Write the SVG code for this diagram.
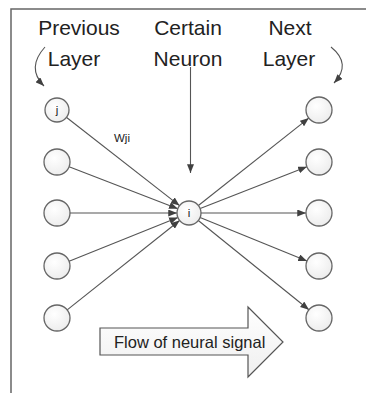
<svg xmlns="http://www.w3.org/2000/svg" width="366" height="393" viewBox="0 0 366 393">
<defs>
<marker id="ah" viewBox="0 0 10 8" refX="10" refY="4" markerWidth="9" markerHeight="7" markerUnits="userSpaceOnUse" orient="auto">
<path d="M0,0 L10,4 L0,8 Z" fill="#404040"/>
</marker>
<radialGradient id="ng" cx="0.4" cy="0.35" r="0.7">
<stop offset="0" stop-color="#ffffff"/>
<stop offset="1" stop-color="#ececec"/>
</radialGradient>
<linearGradient id="fg" x1="0" y1="0" x2="0" y2="1">
<stop offset="0" stop-color="#ffffff"/>
<stop offset="1" stop-color="#efefef"/>
</linearGradient>
</defs>
<style>
.frame{fill:none;stroke:#666;stroke-width:1.5}
.node{fill:url(#ng);stroke:#666;stroke-width:1.3}
.conn{stroke:#555;stroke-width:1.1;fill:none;marker-end:url(#ah)}
.hdr{font-family:"Liberation Sans",Arial,sans-serif;font-size:21px;fill:#222;text-anchor:middle}
.lbl{font-family:"Liberation Sans",Arial,sans-serif;font-size:11.5px;fill:#222;text-anchor:middle}
.flow{font-family:"Liberation Sans",Arial,sans-serif;font-size:16.5px;fill:#222}
</style>
<rect width="366" height="393" fill="#fff"/>
<path class="frame" d="M11,393 L11,9 L366,9"/>

<g id="headers">
<text class="hdr" x="79" y="35">Previous</text>
<text class="hdr" x="74" y="66">Layer</text>
<text class="hdr" x="188" y="35">Certain</text>
<text class="hdr" x="188" y="66">Neuron</text>
<text class="hdr" x="290" y="35">Next</text>
<text class="hdr" x="289" y="66">Layer</text>
</g>

<g id="connectors">
<path class="conn" d="M45,47 Q26,68 44,86"/>
<path class="conn" d="M331,47 Q352,64 334,83"/>
<line class="conn" x1="190.5" y1="67" x2="190.5" y2="173"/>
<line class="conn" x1="66" y1="117" x2="179.5" y2="205.6"/>
<line class="conn" x1="69.1" y1="166.7" x2="177.8" y2="208.7"/>
<line class="conn" x1="70" y1="213" x2="177" y2="213"/>
<line class="conn" x1="69.1" y1="261.2" x2="177.9" y2="217.5"/>
<line class="conn" x1="67.2" y1="309.9" x2="179.6" y2="220.5"/>
<line class="conn" x1="198.4" y1="205.5" x2="308.8" y2="118.1"/>
<line class="conn" x1="200.2" y1="208.6" x2="306.9" y2="166.7"/>
<line class="conn" x1="201" y1="213" x2="306" y2="213"/>
<line class="conn" x1="200.1" y1="217.5" x2="307" y2="261.1"/>
<line class="conn" x1="198.3" y1="220.5" x2="308.9" y2="309.8"/>
<text class="lbl" x="122" y="142">Wji</text>
</g>

<g id="node-j"><circle class="node" cx="57" cy="110" r="12"/><text class="lbl" x="57" y="114">j</text></g>
<g id="node-l2"><circle class="node" cx="57" cy="162" r="13"/></g>
<g id="node-l3"><circle class="node" cx="57" cy="213" r="13"/></g>
<g id="node-l4"><circle class="node" cx="57" cy="266" r="13"/></g>
<g id="node-l5"><circle class="node" cx="57" cy="318" r="13"/></g>

<g id="node-i"><circle class="node" cx="189" cy="213" r="12"/><text class="lbl" x="189" y="217">i</text></g>

<g id="node-r1"><circle class="node" cx="319" cy="110" r="13"/></g>
<g id="node-r2"><circle class="node" cx="319" cy="162" r="13"/></g>
<g id="node-r3"><circle class="node" cx="319" cy="213" r="13"/></g>
<g id="node-r4"><circle class="node" cx="319" cy="266" r="13"/></g>
<g id="node-r5"><circle class="node" cx="319" cy="318" r="13"/></g>

<g id="flow-arrow">
<path d="M100,328 L248,328 L248,307 L283,342 L248,377 L248,355 L100,355 Z" fill="url(#fg)" stroke="#555" stroke-width="1.2"/>
<text class="flow" x="114" y="347.5">Flow of neural signal</text>
</g>
</svg>
